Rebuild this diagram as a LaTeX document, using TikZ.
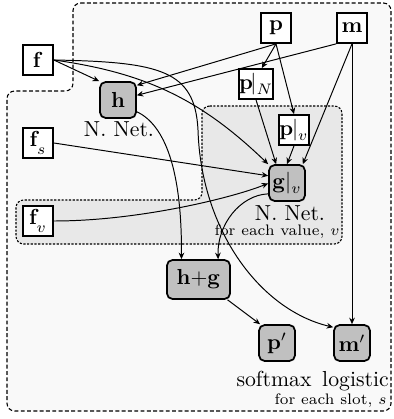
\documentclass[tikz,border=0pt]{standalone}
\usetikzlibrary{arrows.meta}
\definecolor{outerfill}{RGB}{249,249,249}
\definecolor{innerfill}{RGB}{232,232,232}
\definecolor{nodegray}{RGB}{192,192,192}
\newcommand{\mysub}[2]{_{\raisebox{#1}{$\scriptstyle #2$}}}
\tikzset{
  wbox/.style={draw, line width=0.8pt, fill=white, minimum size=13.8pt, inner sep=0pt},
  gbox/.style={draw, line width=0.8pt, fill=nodegray, rounded corners=2.5pt, minimum size=16.5pt, inner sep=0pt},
  lab/.style={inner sep=0pt, anchor=base},
  conn/.style={line width=0.45pt, -{Stealth[length=3pt,width=2.6pt]}},
  regionA/.style={draw, fill=outerfill, line width=0.5pt, dash pattern=on 1.8pt off 1.1pt, rounded corners=3.5pt},
  regionB/.style={draw, fill=innerfill, line width=0.5pt, dash pattern=on 1pt off 0.7pt, rounded corners=3.5pt},
}
\begin{document}
\begin{tikzpicture}[x=0.46pt,y=-0.46pt]
\useasboundingbox (0,0) rectangle (393,419);
% regions
\path[regionA] (73,3) -- (391,3) -- (391,411) -- (7,411) -- (7,91) -- (73,91) -- cycle;
\path[regionB] (202,106) -- (342,106) -- (342,244) -- (16,244) -- (16,200) -- (202,200) -- cycle;
% nodes
\node[wbox] (f) at (38,60) {$\mathbf{f}$};
\node[wbox] (fs) at (38,143) {$\mathbf{f}\mysub{-2.5pt}{s}$};
\node[wbox] (fv) at (38,221) {$\mathbf{f}\mysub{-2.5pt}{v}$};
\node[wbox] (p) at (276,28) {$\mathbf{p}$};
\node[wbox] (m) at (352,28) {$\mathbf{m}$};
\node[wbox] (pN) at (256,84) {$\mathbf{p}\mskip-2mu|\mysub{-1pt}{N}$};
\node[wbox] (pV) at (294,130) {$\mathbf{p}\mskip-1mu|\mysub{-1pt}{v}$};
\node[gbox] (h) at (118,100) {$\mathbf{h}$};
\node[gbox] (g) at (287,183) {$\mathbf{g}|\mysub{-1pt}{v}$};
\node[gbox, minimum width=29pt, minimum height=17.9pt] (hg) at (198.5,279.5) {$\mathbf{h}{+}\mathbf{g}$};
\node[gbox] (pp) at (277,343) {$\mathbf{p}'$};
\node[gbox] (mp) at (352,343) {$\mathbf{m}'$};
% labels
\node[lab] (hl) at (119,137) {N. Net.};
\node[lab] (gl) at (290,221) {N. Net.};
\node[lab, anchor=base east, font=\scriptsize] (vl) at (340,236) {for each value, $v$};
\node[lab] (sm) at (274,386) {softmax};
\node[lab] (lg) at (355.5,386) {logistic};
\node[lab, anchor=base east, font=\scriptsize] (sl) at (387,404) {for each slot, $s$};
% connectors
\draw[conn] (f.east) -- (h.135);
\draw[conn] (f.east) to[bend left=18] (g.north west);
\draw[conn] (f.east) .. controls (160,62) and (195,70) .. (198,130) .. controls (201,230) and (260,310) .. (mp.140);
\draw[conn] (fs.east) -- (g.159);
\draw[conn] (fv.east) .. controls (140,221) and (235,197) .. (g.181);
\draw[conn] (p.south) -- (pN.70);
\draw[conn] (p.south) -- (pV.north);
\draw[conn] (p.south) -- (h.38);
\draw[conn] (m.south west) -- (h.14);
\draw[conn] (m.south) -- (g.50);
\draw[conn] (m.south) -- (mp.north);
\draw[conn] (pN.south) -- (g.120);
\draw[conn] (pV.south) -- (g.north);
\draw[conn] (h.-32) .. controls (165,125) and (182,170) .. (hg.130);
\draw[conn] (g.210) .. controls (240,195) and (217,225) .. (hg.46);
\draw[conn] (hg.-35) -- (pp.132);
\end{tikzpicture}
\end{document}
